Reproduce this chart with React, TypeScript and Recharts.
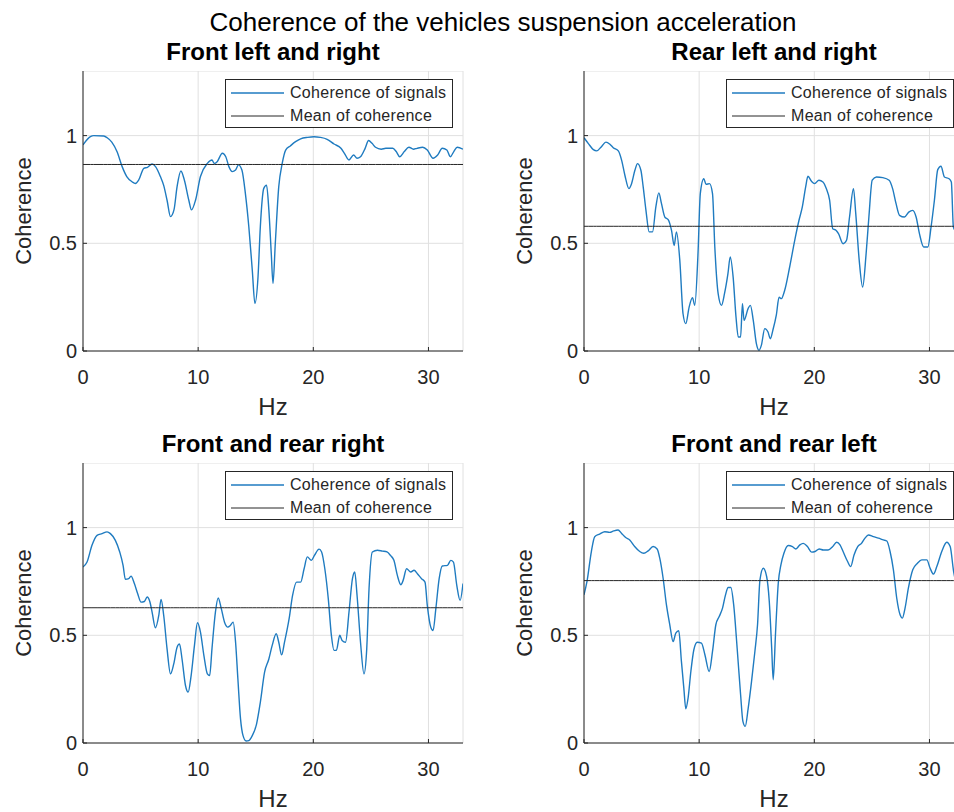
import React from "react";
import { CartesianGrid, Legend, Line, LineChart, XAxis, YAxis } from "recharts";

const mainTitle = "Coherence of the vehicles suspension acceleration";
const xTicks = [0, 10, 20, 30];
const yTicks = [0, 0.5, 1];
const seriesNames = ["Coherence of signals", "Mean of coherence"];

// Front left and right
const hzFL = [0, 0.64, 0.93, 1.8, 2.1, 2.5, 2.96, 3.4, 3.8, 4.26, 4.55, 4.84, 5.28, 5.6, 6.0, 6.3, 6.72, 7.0, 7.3, 7.6, 7.9, 8.17, 8.5, 8.8, 9.19, 9.42, 9.77, 10.2, 10.8, 11.2, 11.4, 11.65, 12.1, 12.4, 12.67, 12.96, 13.25, 13.5, 13.8, 14.1, 14.4, 14.7, 14.93, 15.2, 15.4, 15.7, 15.94, 16.14, 16.35, 16.5, 16.7, 17.0, 17.3, 17.6, 18.0, 18.46, 18.9, 19.5, 20.06, 20.6, 21.2, 21.8, 22.4, 22.7, 23.1, 23.5, 23.8, 24.1, 24.5, 24.8, 25.1, 25.4, 25.9, 26.3, 26.9, 27.2, 27.5, 27.9, 28.3, 28.7, 29.0, 29.5, 29.9, 30.4, 30.8, 31.2, 31.6, 31.9, 32.2, 32.5, 33.0];
const cohFL = [0.957, 0.995, 1.0, 0.998, 0.99, 0.97, 0.925, 0.856, 0.81, 0.786, 0.778, 0.794, 0.848, 0.853, 0.868, 0.856, 0.81, 0.77, 0.7, 0.624, 0.655, 0.763, 0.836, 0.794, 0.7, 0.655, 0.7, 0.81, 0.871, 0.887, 0.871, 0.879, 0.918, 0.902, 0.856, 0.833, 0.84, 0.864, 0.84, 0.732, 0.577, 0.376, 0.221, 0.345, 0.577, 0.755, 0.77, 0.655, 0.453, 0.314, 0.5, 0.763, 0.871, 0.933, 0.952, 0.972, 0.985, 0.992, 0.995, 0.992, 0.983, 0.961, 0.941, 0.918, 0.887, 0.91, 0.895, 0.902, 0.941, 0.977, 0.964, 0.946, 0.937, 0.941, 0.941, 0.926, 0.902, 0.926, 0.946, 0.937, 0.941, 0.946, 0.933, 0.895, 0.91, 0.941, 0.933, 0.902, 0.926, 0.946, 0.937];
const meanFL = 0.866;

// Rear left and right
const hzRR = [0, 0.38, 0.81, 1.1, 1.53, 1.9, 2.25, 2.54, 2.98, 3.27, 3.55, 3.9, 4.13, 4.42, 4.65, 4.94, 5.14, 5.38, 5.66, 5.95, 6.24, 6.5, 6.73, 7.02, 7.31, 7.6, 7.83, 8.03, 8.32, 8.6, 8.84, 9.13, 9.42, 9.62, 9.9, 10.1, 10.4, 10.6, 10.9, 11.16, 11.36, 11.65, 11.94, 12.2, 12.5, 12.7, 12.95, 13.2, 13.4, 13.6, 13.76, 13.9, 14.25, 14.45, 14.7, 14.97, 15.2, 15.4, 15.7, 15.98, 16.18, 16.4, 16.7, 16.94, 17.14, 17.43, 17.86, 18.3, 18.67, 18.96, 19.25, 19.45, 19.74, 20.03, 20.4, 20.75, 21.04, 21.33, 21.6, 21.9, 22.1, 22.5, 22.8, 23.06, 23.4, 23.6, 23.9, 24.2, 24.5, 24.74, 25.03, 25.4, 25.95, 26.5, 26.8, 27.1, 27.4, 27.83, 28.2, 28.55, 28.84, 29.13, 29.5, 29.86, 30.14, 30.43, 30.72, 31.0, 31.3, 31.7, 31.9, 32.08, 32.4, 33.0];
const cohRR = [0.99, 0.963, 0.935, 0.929, 0.95, 0.97, 0.96, 0.944, 0.929, 0.885, 0.816, 0.754, 0.777, 0.839, 0.87, 0.839, 0.762, 0.653, 0.553, 0.553, 0.669, 0.734, 0.684, 0.622, 0.61, 0.56, 0.49, 0.553, 0.421, 0.173, 0.127, 0.204, 0.248, 0.212, 0.452, 0.731, 0.8, 0.774, 0.777, 0.731, 0.483, 0.266, 0.212, 0.266, 0.359, 0.437, 0.344, 0.158, 0.065, 0.065, 0.22, 0.142, 0.197, 0.212, 0.142, 0.034, 0.003, 0.026, 0.104, 0.088, 0.057, 0.096, 0.166, 0.25, 0.243, 0.282, 0.39, 0.514, 0.607, 0.669, 0.762, 0.811, 0.789, 0.777, 0.793, 0.785, 0.754, 0.7, 0.568, 0.56, 0.545, 0.498, 0.514, 0.622, 0.754, 0.638, 0.421, 0.297, 0.452, 0.622, 0.793, 0.808, 0.805, 0.793, 0.754, 0.684, 0.63, 0.622, 0.645, 0.653, 0.622, 0.545, 0.483, 0.483, 0.576, 0.7, 0.842, 0.858, 0.808, 0.8, 0.785, 0.576, 0.55, 0.6];
const meanRR = 0.579;

// Front and rear right
const hzFRR = [0, 0.35, 0.78, 1.22, 1.65, 2.09, 2.38, 2.81, 3.19, 3.48, 3.68, 3.97, 4.17, 4.46, 4.75, 5.04, 5.33, 5.57, 5.8, 6.0, 6.29, 6.58, 6.78, 7.01, 7.3, 7.6, 7.88, 8.17, 8.38, 8.6, 8.9, 9.13, 9.39, 9.68, 9.94, 10.2, 10.5, 10.8, 11.0, 11.2, 11.5, 11.74, 12.0, 12.29, 12.58, 12.8, 13.04, 13.25, 13.45, 13.68, 13.9, 14.17, 14.4, 14.7, 15.07, 15.4, 15.77, 16.14, 16.43, 16.78, 17.0, 17.25, 17.5, 17.9, 18.2, 18.55, 18.9, 19.2, 19.48, 19.83, 20.1, 20.5, 20.72, 21.0, 21.3, 21.57, 21.8, 22.0, 22.3, 22.5, 22.8, 23.1, 23.4, 23.6, 23.8, 24.1, 24.4, 24.64, 24.84, 25.13, 25.57, 26.0, 26.4, 26.7, 27.0, 27.3, 27.6, 27.8, 28.1, 28.46, 28.75, 29.04, 29.4, 29.7, 29.9, 30.2, 30.4, 30.64, 30.93, 31.2, 31.65, 31.94, 32.17, 32.46, 32.75, 33.0];
const cohFRR = [0.817, 0.84, 0.918, 0.964, 0.972, 0.98, 0.972, 0.941, 0.887, 0.825, 0.76, 0.763, 0.775, 0.74, 0.693, 0.654, 0.657, 0.678, 0.657, 0.608, 0.535, 0.592, 0.667, 0.592, 0.437, 0.321, 0.367, 0.445, 0.46, 0.39, 0.267, 0.236, 0.313, 0.453, 0.558, 0.515, 0.406, 0.321, 0.313, 0.437, 0.608, 0.673, 0.626, 0.561, 0.538, 0.546, 0.561, 0.468, 0.298, 0.112, 0.034, 0.009, 0.011, 0.034, 0.088, 0.189, 0.329, 0.39, 0.453, 0.507, 0.468, 0.409, 0.468, 0.577, 0.685, 0.747, 0.747, 0.809, 0.864, 0.848, 0.871, 0.9, 0.887, 0.809, 0.67, 0.5, 0.43, 0.43, 0.5, 0.476, 0.468, 0.608, 0.763, 0.794, 0.685, 0.468, 0.321, 0.437, 0.716, 0.887, 0.895, 0.891, 0.887, 0.871, 0.848, 0.778, 0.735, 0.755, 0.809, 0.794, 0.802, 0.786, 0.763, 0.747, 0.639, 0.538, 0.522, 0.623, 0.763, 0.822, 0.825, 0.848, 0.84, 0.732, 0.662, 0.74];
const meanFRR = 0.628;

// Front and rear left
const hzFRL = [0, 0.26, 0.64, 0.93, 1.36, 1.8, 2.23, 2.58, 2.96, 3.25, 3.62, 3.97, 4.4, 4.84, 5.19, 5.57, 6.0, 6.35, 6.58, 6.87, 7.16, 7.45, 7.74, 7.97, 8.23, 8.46, 8.67, 8.84, 9.04, 9.28, 9.54, 9.83, 10.2, 10.5, 10.87, 11.16, 11.45, 11.74, 12.03, 12.29, 12.52, 12.75, 13.0, 13.3, 13.6, 13.8, 14.0, 14.26, 14.55, 14.84, 15.07, 15.28, 15.57, 15.86, 16.09, 16.3, 16.43, 16.64, 16.87, 17.1, 17.36, 17.74, 18.1, 18.4, 18.75, 19.04, 19.4, 19.77, 20.06, 20.43, 20.78, 21.2, 21.6, 21.94, 22.23, 22.5, 22.87, 23.16, 23.45, 23.77, 24.1, 24.4, 24.7, 25.13, 25.57, 26.0, 26.3, 26.58, 26.87, 27.16, 27.45, 27.65, 27.88, 28.17, 28.55, 28.96, 29.33, 29.77, 30.06, 30.35, 30.64, 31.07, 31.5, 31.8, 32.1, 32.5, 33.0];
const cohFRL = [0.688, 0.75, 0.889, 0.958, 0.97, 0.981, 0.978, 0.985, 0.989, 0.974, 0.954, 0.943, 0.912, 0.889, 0.881, 0.892, 0.912, 0.901, 0.858, 0.765, 0.641, 0.549, 0.471, 0.51, 0.521, 0.379, 0.255, 0.159, 0.209, 0.332, 0.433, 0.468, 0.464, 0.41, 0.332, 0.425, 0.549, 0.587, 0.626, 0.688, 0.722, 0.722, 0.641, 0.44, 0.224, 0.1, 0.077, 0.162, 0.286, 0.425, 0.549, 0.757, 0.811, 0.773, 0.657, 0.44, 0.294, 0.518, 0.742, 0.827, 0.881, 0.917, 0.912, 0.901, 0.92, 0.927, 0.912, 0.886, 0.889, 0.901, 0.896, 0.896, 0.912, 0.932, 0.92, 0.889, 0.845, 0.819, 0.873, 0.912, 0.927, 0.951, 0.966, 0.958, 0.951, 0.943, 0.938, 0.889, 0.804, 0.672, 0.595, 0.58, 0.626, 0.719, 0.804, 0.835, 0.85, 0.85, 0.811, 0.784, 0.819, 0.889, 0.932, 0.912, 0.796, 0.72, 0.76];
const meanFRL = 0.754;

const FONT = '"Liberation Sans", Arial, Helvetica, sans-serif';
const AXIS = "#262626";
const BLUE = "#1f7bc0";

type Row = { hz: number; coh: number; mean: number };
const toRows = (hz: number[], coh: number[], mean: number): Row[] =>
  hz.map((h, i) => ({ hz: h, coh: coh[i], mean }));

const panels = [
  { title: "Front left and right", data: toRows(hzFL, cohFL, meanFL), left: 1, top: 71 },
  { title: "Rear left and right", data: toRows(hzRR, cohRR, meanRR), left: 502, top: 71 },
  { title: "Front and rear right", data: toRows(hzFRR, cohFRR, meanFRR), left: 1, top: 463 },
  { title: "Front and rear left", data: toRows(hzFRL, cohFRL, meanFRL), left: 502, top: 463 },
];

const xLabel = (props: any) => {
  const vb = props.viewBox || { x: 82, y: 280, width: 380 };
  return (
    <text x={vb.x + vb.width / 2} y={vb.y + 64} textAnchor="middle" fontSize={24} fill={AXIS} fontFamily={FONT}>
      Hz
    </text>
  );
};

const yLabel = (props: any) => {
  const vb = props.viewBox || { x: 0, y: 0, height: 280 };
  const x = vb.x + 30;
  const y = vb.y + vb.height / 2;
  return (
    <text x={x} y={y} transform={`rotate(-90 ${x} ${y})`} textAnchor="middle" fontSize={22} fill={AXIS} fontFamily={FONT}>
      Coherence
    </text>
  );
};

function LegendBox({ payload }: any) {
  const items = payload && payload.length ? payload : seriesNames.map((n, i) => ({ value: n, color: i ? AXIS : BLUE }));
  return (
    <div
      style={{
        boxSizing: "border-box",
        width: 228,
        height: 49,
        border: `1px solid ${AXIS}`,
        background: "#fff",
        paddingTop: 2,
        fontFamily: FONT,
        fontSize: 16,
        letterSpacing: 0.3,
        color: AXIS,
      }}
    >
      {items.map((p: any) => (
        <div key={p.value} style={{ display: "flex", alignItems: "center", height: 22.5 }}>
          <svg width={64} height={4} style={{ flex: "none" }}>
            <line x1={5} x2={58} y1={2} y2={2} stroke={p.color} strokeWidth={p.color === BLUE ? 1.4 : 1} />
          </svg>
          <span style={{ whiteSpace: "nowrap" }}>{p.value}</span>
        </div>
      ))}
    </div>
  );
}

function Panel({ title, data, left, top }: { title: string; data: Row[]; left: number; top: number }) {
  return (
    <>
      <div
        style={{
          position: "absolute",
          left: left + 82,
          top: top - 31,
          width: 380,
          textAlign: "center",
          fontWeight: "bold",
          fontSize: 24,
          lineHeight: "24px",
          whiteSpace: "nowrap",
          color: "#000",
        }}
      >
        {title}
      </div>
      <div style={{ position: "absolute", left, top }}>
        <LineChart width={472} height={350} data={data} margin={{ top: 0, right: 10, bottom: 0, left: 0 }}>
          <CartesianGrid stroke="#e0e0e0" />
          <XAxis
            dataKey="hz"
            type="number"
            domain={[0, 33]}
            ticks={xTicks}
            interval={0}
            allowDataOverflow
            height={70}
            tickSize={-4}
            tickMargin={23}
            stroke={AXIS}
            tick={{ fill: AXIS, fontSize: 20, fontFamily: FONT }}
            label={xLabel}
          />
          <XAxis
            xAxisId="top"
            orientation="top"
            dataKey="hz"
            type="number"
            domain={[0, 33]}
            ticks={xTicks}
            interval={0}
            allowDataOverflow
            height={0}
            tickSize={-4}
            tick={false}
            stroke={AXIS}
          />
          <YAxis
            type="number"
            domain={[0, 1.3]}
            ticks={yTicks}
            interval={0}
            allowDataOverflow
            width={82}
            tickSize={-4}
            tickMargin={10}
            stroke={AXIS}
            tick={{ fill: AXIS, fontSize: 20, fontFamily: FONT }}
            label={yLabel}
          />
          <YAxis
            yAxisId="right"
            orientation="right"
            type="number"
            domain={[0, 1.3]}
            ticks={yTicks}
            interval={0}
            width={0}
            tickSize={-4}
            tick={false}
            stroke={AXIS}
          />
          <Line
            dataKey="coh"
            name={seriesNames[0]}
            type="monotone"
            stroke={BLUE}
            strokeWidth={1.4}
            dot={false}
            activeDot={false}
            isAnimationActive={false}
          />
          <Line
            dataKey="mean"
            name={seriesNames[1]}
            type="linear"
            stroke={AXIS}
            strokeWidth={1}
            dot={false}
            activeDot={false}
            isAnimationActive={false}
          />
          <Legend
            layout="horizontal"
            verticalAlign="middle"
            align="center"
            content={LegendBox}
            wrapperStyle={{ top: 8, left: 82 + 142, width: 228, height: 49 }}
          />
        </LineChart>
      </div>
    </>
  );
}

export default function App() {
  return (
    <div
      style={{
        position: "fixed",
        left: 0,
        top: 0,
        width: 954,
        height: 812,
        overflow: "hidden",
        background: "#fff",
        fontFamily: FONT,
      }}
    >
      <div
        style={{
          position: "absolute",
          left: 103,
          top: 9,
          width: 800,
          textAlign: "center",
          fontSize: 26,
          lineHeight: "26px",
          color: "#000",
          whiteSpace: "nowrap",
        }}
      >
        {mainTitle}
      </div>
      {panels.map((p) => (
        <Panel key={p.title} {...p} />
      ))}
    </div>
  );
}
